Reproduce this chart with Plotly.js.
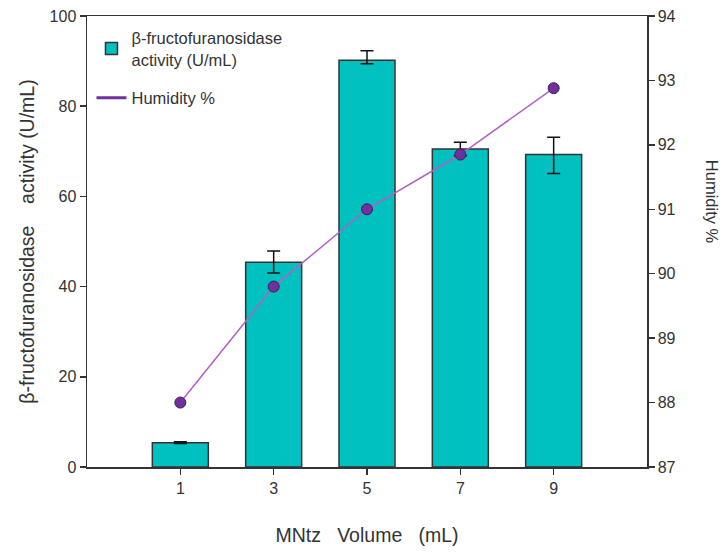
<!DOCTYPE html>
<html>
<head>
<meta charset="utf-8">
<script src="https://cdn.plot.ly/plotly-3.0.1.min.js"></script>
<style>html,body{margin:0;padding:0;background:#fff;}#chart{width:722px;height:552px;}</style>
</head>
<body>
<div id="chart"></div>
<script>
const volumes = [1, 3, 5, 7, 9];
const activity = [5.4, 45.4, 90.2, 70.5, 69.3];
const activityErrPlus = [0.2, 2.5, 2.1, 1.5, 3.8];
const activityErrMinus = [0.2, 2.4, 0.8, 1.5, 4.2];
const humidity = [88.0, 89.8, 91.0, 91.85, 92.88];
const leftTicks = [0, 20, 40, 60, 80, 100];
const rightTicks = [87, 88, 89, 90, 91, 92, 93, 94];

const font = 'Liberation Sans, Arial, sans-serif';
const nb = '\u00A0';

const traces = [
  {
    type: 'bar', x: volumes, y: activity, width: 1.2,
    name: 'β-fructofuranosidase<br>activity (U/mL)', legendgroup: 'act',
    marker: {color: '#00c0c0', line: {color: '#333333', width: 1.5}},
    error_y: {type: 'data', array: activityErrPlus, arrayminus: activityErrMinus, symmetric: false,
      color: '#111111', thickness: 1.5, width: 6.5},
    yaxis: 'y'
  },
  {
    type: 'scatter', mode: 'lines+markers', x: volumes, y: humidity,
    name: 'Humidity %', yaxis: 'y2', showlegend: false,
    line: {color: '#b45fc4', width: 1.5},
    marker: {color: '#7030a0', size: 11, line: {color: '#3a2050', width: 1}}
  },
  {
    type: 'scatter', mode: 'lines', x: [null], y: [null],
    name: 'Humidity %', legendgroup: 'hum', yaxis: 'y2', showlegend: true, hoverinfo: 'skip',
    line: {color: '#7030a0', width: 3}
  }
];

const layout = {
  width: 722, height: 552,
  margin: {l: 87, r: 75, t: 16, b: 85},
  paper_bgcolor: '#fff', plot_bgcolor: '#fff',
  font: {family: font, size: 16, color: '#333'},
  showlegend: true,
  legend: {x: 0.008, y: 0.99, xanchor: 'left', yanchor: 'top', bgcolor: 'rgba(0,0,0,0)',
    traceorder: 'grouped',
    font: {family: font, size: 16.5, color: '#333'}, tracegroupgap: 14, itemwidth: 30},
  xaxis: {
    range: [-1, 11], tickvals: volumes, ticktext: volumes.map(String),
    showgrid: false, zeroline: false, showline: true, linecolor: '#333', linewidth: 1.5,
    mirror: true, ticks: 'outside', ticklen: 6, tickcolor: '#333', tickwidth: 1.5,
    tickfont: {family: font, size: 16, color: '#333'},
    title: {text: 'MNtz' + nb + nb + nb + 'Volume' + nb + nb + nb + '(mL)', font: {family: font, size: 19.5, color: '#333'}, standoff: 32}
  },
  yaxis: {
    range: [0, 100], tickvals: leftTicks, showgrid: false, zeroline: false,
    showline: true, linecolor: '#333', linewidth: 1.5,
    ticks: 'outside', ticklen: 6, tickcolor: '#333', tickwidth: 1.5,
    tickfont: {family: font, size: 16, color: '#333'},
    title: {text: 'β-fructofuranosidase' + nb + nb + nb + nb + 'activity (U/mL)', font: {family: font, size: 19.5, color: '#333'}, standoff: 10}
  },
  yaxis2: {
    range: [87, 94], tickvals: rightTicks, overlaying: 'y', side: 'right',
    showgrid: false, zeroline: false, showline: true, linecolor: '#333', linewidth: 1.5,
    ticks: 'outside', ticklen: 6, tickcolor: '#333', tickwidth: 1.5,
    tickfont: {family: font, size: 16, color: '#333'}
  },
  annotations: [
    {text: 'Humidity %', xref: 'paper', yref: 'paper', x: 1.116, y: 0.588, xanchor: 'center', yanchor: 'middle',
      textangle: 90, showarrow: false, font: {family: font, size: 16.5, color: '#333'}}
  ]
};

Plotly.newPlot('chart', traces, layout, {displayModeBar: false, staticPlot: true});
</script>
</body>
</html>
